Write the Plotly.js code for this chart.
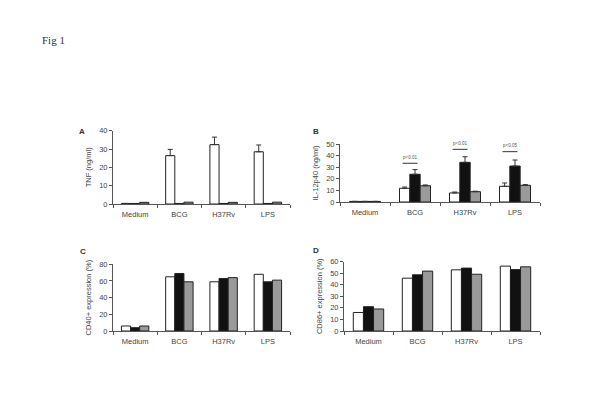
<!DOCTYPE html>
<html>
<head>
<meta charset="utf-8">
<script src="https://cdn.plot.ly/plotly-3.0.1.min.js"></script>
<style>html,body{margin:0;padding:0;background:#fff}#chart{width:600px;height:417px}</style>
</head>
<body>
<div id="chart"></div>
<script>
// Data
const categories = ['Medium', 'BCG', 'H37Rv', 'LPS'];

const tnfWhite = [0.3, 26.4, 32.4, 28.5];
const tnfWhiteErr = [0, 3.4, 4.1, 3.7];
const tnfBlack = [0.3, 0.3, 0.3, 0.3];
const tnfGray = [0.9, 1.0, 0.9, 1.0];

const il12White = [0.5, 11.8, 7.8, 13.5];
const il12WhiteErr = [0, 1.1, 0.8, 2.9];
const il12Black = [0.5, 23.9, 34.2, 31.0];
const il12BlackErr = [0, 4.0, 4.8, 5.2];
const il12Gray = [0.5, 14.0, 8.9, 14.4];
const il12GrayErr = [0, 0.7, 0.4, 0.6];

const pLabels = ['', 'p<0.01', 'p<0.01', 'p<0.05'];
const pLineLevel = [null, 33.4, 45.4, 43.4];

const cd40White = [6, 65, 59, 68];
const cd40Black = [4, 69, 63, 59];
const cd40Gray = [6, 59, 64, 61];

const cd86White = [16, 45.6, 52.8, 56];
const cd86Black = [21, 48.5, 54.3, 53];
const cd86Gray = [19, 51.7, 49, 55.4];

const panelLetters = ['A', 'B', 'C', 'D'];
const yTitles = ['TNF (ng/ml)', 'IL-12p40 (ng/ml)', 'CD40+ expression (%)', 'CD86+ expression (%)'];

// Styles
const WHITE = '#ffffff', BLACK = '#111111', GRAY = '#9a9a9a', EDGE = '#222222';
const FONT = 'Liberation Sans, Arial, sans-serif';
const TXT = '#444444';

function bar(y, color, ax, err) {
  const t = {
    type: 'bar', x: categories, y: y, xaxis: 'x' + ax, yaxis: 'y' + ax,
    marker: {color: color, line: {color: EDGE, width: 1}},
    showlegend: false, hoverinfo: 'skip'
  };
  if (err) {
    t.error_y = {type: 'data', array: err, symmetric: false, arrayminus: err.map(() => 0),
      color: '#333', thickness: 1, width: 2.5};
  }
  return t;
}

const data = [
  bar(tnfWhite, WHITE, '', tnfWhiteErr), bar(tnfBlack, BLACK, ''), bar(tnfGray, GRAY, ''),
  bar(il12White, WHITE, '2', il12WhiteErr), bar(il12Black, BLACK, '2', il12BlackErr), bar(il12Gray, GRAY, '2', il12GrayErr),
  bar(cd40White, WHITE, '3'), bar(cd40Black, BLACK, '3'), bar(cd40Gray, GRAY, '3'),
  bar(cd86White, WHITE, '4'), bar(cd86Black, BLACK, '4'), bar(cd86Gray, GRAY, '4')
];
data.slice(0, 3).forEach(t => { t.xaxis = 'x'; t.yaxis = 'y'; });

function xax(domain, anchor) {
  return {domain: domain, anchor: anchor, showline: true, linecolor: '#555', linewidth: 1,
    ticks: 'outside', tickson: 'boundaries', ticklen: 3, tickcolor: '#555',
    ticklabelstandoff: 3,
    tickfont: {family: FONT, size: 7.5, color: TXT}, showgrid: false, zeroline: false,
    fixedrange: true, automargin: false};
}
function yax(domain, anchor, range, dtick, title) {
  return {domain: domain, anchor: anchor, range: range, dtick: dtick, showline: true,
    linecolor: '#555', linewidth: 1, ticks: 'outside', ticklen: 3, tickcolor: '#555',
    tickfont: {family: FONT, size: 7.5, color: TXT}, showgrid: false, zeroline: false,
    title: {text: title, font: {family: FONT, size: 7.5, color: TXT}, standoff: 6},
    fixedrange: true, automargin: false};
}

const W = 600, H = 417;
const px = (a, b) => [a / W, b / W];
const py = (top, bottom) => [1 - bottom / H, 1 - top / H];

const layout = {
  width: W, height: H, margin: {l: 0, r: 0, t: 0, b: 0},
  paper_bgcolor: '#fff', plot_bgcolor: '#fff',
  barmode: 'group', bargap: 0.38, bargroupgap: 0,
  showlegend: false,
  xaxis: xax(px(113, 290), 'y'),
  yaxis: yax(py(130.7, 204), 'x', [0, 40], 10, yTitles[0]),
  xaxis2: xax(px(340, 540), 'y2'),
  yaxis2: yax(py(144, 202), 'x2', [0, 50], 10, yTitles[1]),
  xaxis3: xax(px(113, 290), 'y3'),
  yaxis3: yax(py(264.3, 331), 'x3', [0, 80], 20, yTitles[2]),
  xaxis4: xax(px(344, 540), 'y4'),
  yaxis4: yax(py(261.5, 331), 'x4', [0, 60], 10, yTitles[3]),
  annotations: [],
  shapes: []
};

layout.annotations.push({text: 'Fig 1', xref: 'paper', yref: 'paper', x: 40 / W, y: 1 - 40 / H,
  xanchor: 'left', yanchor: 'middle', showarrow: false,
  font: {family: 'Liberation Serif, Times New Roman, serif', size: 11, color: '#333'}});

const letterPos = [[82, 131], [316, 131], [83, 251], [316, 250]];
panelLetters.forEach((L, i) => {
  layout.annotations.push({text: '<b>' + L + '</b>', xref: 'paper', yref: 'paper',
    x: letterPos[i][0] / W, y: 1 - letterPos[i][1] / H, xanchor: 'center', yanchor: 'middle',
    showarrow: false, font: {family: FONT, size: 8, color: '#333'}});
});

pLabels.forEach((p, i) => {
  if (!p) return;
  const lvl = pLineLevel[i];
  layout.shapes.push({type: 'line', xref: 'x2', yref: 'y2', x0: i - 0.25, x1: i + 0.05,
    y0: lvl, y1: lvl, line: {color: '#333', width: 1}});
  layout.annotations.push({text: p, xref: 'x2', yref: 'y2', x: i - 0.1, y: lvl + 1.5,
    xanchor: 'center', yanchor: 'bottom', showarrow: false,
    font: {family: FONT, size: 4.5, color: '#555'}});
});

Plotly.newPlot('chart', data, layout, {displayModeBar: false, staticPlot: true});
</script>
</body>
</html>
